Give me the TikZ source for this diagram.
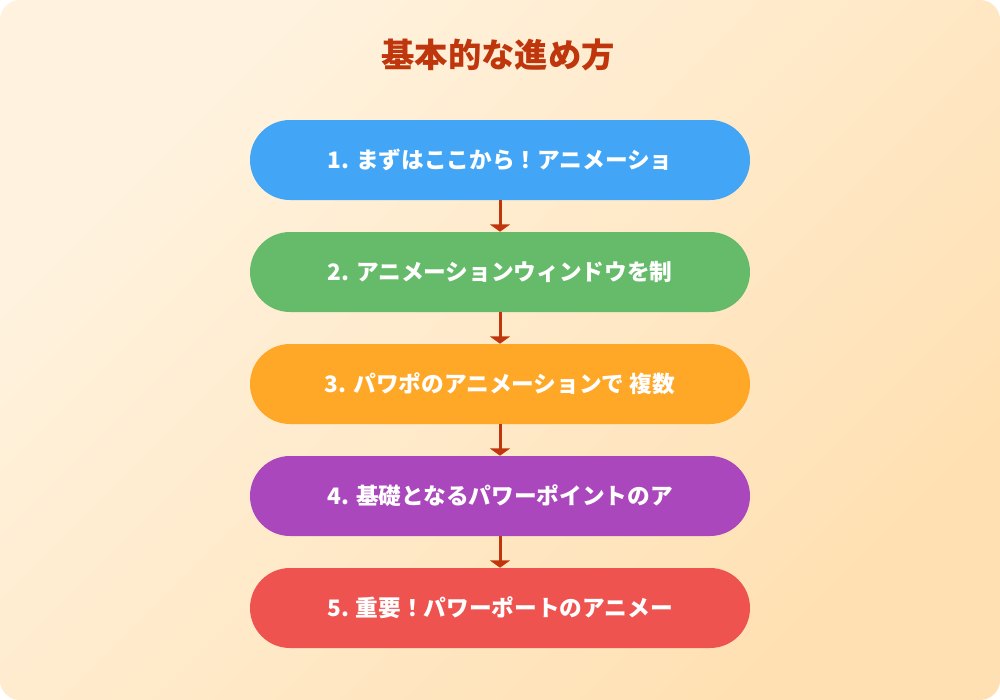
\documentclass[tikz,border=0pt]{standalone}
\usepackage{fontspec}
\setmainfont{Noto Sans CJK JP}
\usetikzlibrary{arrows.meta}
\definecolor{bgA}{HTML}{FFF3E0}
\definecolor{bgB}{HTML}{FFE0B2}
\definecolor{titlecol}{HTML}{BF360C}
\definecolor{arrowcol}{HTML}{BF360C}
\definecolor{cblue}{HTML}{42A5F5}
\definecolor{cgreen}{HTML}{66BB6A}
\definecolor{corange}{HTML}{FFA726}
\definecolor{cpurple}{HTML}{AB47BC}
\definecolor{cred}{HTML}{EF5350}
\tikzset{
  stepbox/.style={rectangle, rounded corners=30pt, minimum width=375pt, minimum height=60pt,
    inner sep=0pt, text=white, font=\fontsize{17pt}{20pt}\selectfont\bfseries},
  flowarrow/.style={draw=arrowcol, line width=2.25pt, -{Triangle[width=15pt,length=5.5pt]}},
  titletext/.style={text=titlecol, font=\fontsize{25pt}{29pt}\selectfont\bfseries}
}
\begin{document}
\begin{tikzpicture}[x=0.75pt,y=-0.75pt]
\useasboundingbox (0,0) rectangle (1000,700);
\shade[rounded corners=15pt, top color=bgA, bottom color=bgB, shading angle=45] (0,0) rectangle (1000,700);
\node[titletext] (title) at (498,55) {基本的な進め方};
\node[stepbox, fill=cblue] (b1) at (500,160) {1. まずはここから！アニメーショ};
\node[stepbox, fill=cgreen] (b2) at (500,272) {2. アニメーションウィンドウを制};
\node[stepbox, fill=corange] (b3) at (500,384) {3. パワポのアニメーションで 複数};
\node[stepbox, fill=cpurple] (b4) at (500,496) {4. 基礎となるパワーポイントのア};
\node[stepbox, fill=cred] (b5) at (500,608) {5. 重要！パワーポートのアニメー};
\draw[flowarrow] (b1) -- (b2);
\draw[flowarrow] (b2) -- (b3);
\draw[flowarrow] (b3) -- (b4);
\draw[flowarrow] (b4) -- (b5);
\end{tikzpicture}
\end{document}
